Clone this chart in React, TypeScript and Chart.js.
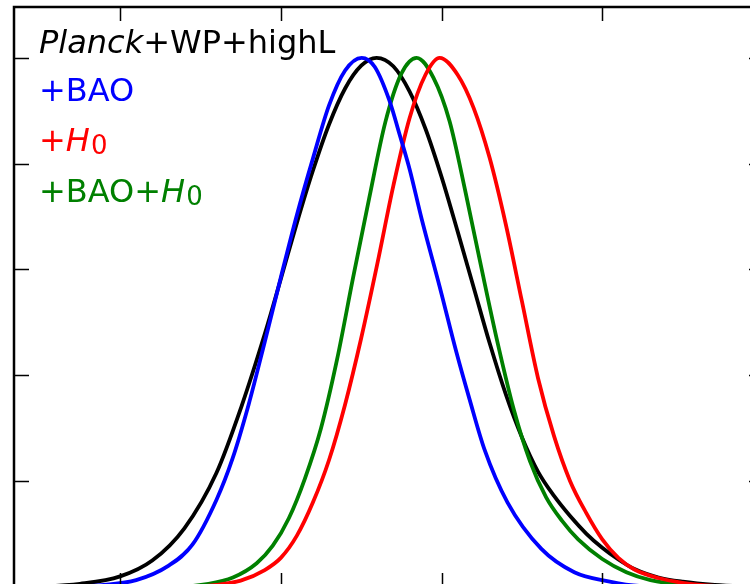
import React, { useEffect, useRef } from 'react';
import { Chart, registerables } from 'chart.js';

Chart.register(...registerables);

// ---- data (x in axis units, y = normalised likelihood) ----
const planckX = [-0.66, -0.5, -0.25, 0.0, 0.2, 0.4, 0.6, 0.756, 0.9, 1.0, 1.1, 1.2, 1.3, 1.4, 1.5, 1.596, 1.7, 1.8, 1.9, 2.0, 2.1, 2.2, 2.3, 2.4, 2.5, 2.6, 2.7, 2.8, 2.9, 3.0, 3.1, 3.2, 3.35, 3.5, 3.7, 3.9, 4.0];
const planckY = [0, 0.001, 0.006, 0.02, 0.05, 0.111, 0.216, 0.342, 0.478, 0.582, 0.688, 0.787, 0.874, 0.942, 0.985, 1.0, 0.984, 0.937, 0.866, 0.775, 0.672, 0.566, 0.46, 0.364, 0.283, 0.218, 0.172, 0.134, 0.101, 0.074, 0.052, 0.034, 0.018, 0.01, 0.004, 0.001, 0];

const baoX = [-0.66, -0.3, -0.1, 0.1, 0.3, 0.45, 0.6, 0.7, 0.8, 0.9, 1.0, 1.1, 1.2, 1.3, 1.4, 1.503, 1.584, 1.677, 1.739, 1.801, 1.876, 1.988, 2.093, 2.174, 2.267, 2.41, 2.621, 2.826, 3.031, 3.23, 4.0];
const baoY = [0, 0.001, 0.004, 0.013, 0.04, 0.08, 0.165, 0.243, 0.345, 0.463, 0.585, 0.703, 0.81, 0.91, 0.976, 1.0, 0.983, 0.918, 0.855, 0.79, 0.696, 0.568, 0.443, 0.355, 0.26, 0.16, 0.072, 0.028, 0.011, 0.002, 0];

const h0X = [-0.66, 0.45, 0.6, 0.75, 0.9, 1.0, 1.1, 1.2, 1.3, 1.4, 1.5, 1.6, 1.7, 1.8, 1.9, 1.988, 2.1, 2.2, 2.3, 2.4, 2.5, 2.6, 2.7, 2.8, 2.9, 3.0, 3.1, 3.2, 3.35, 3.5, 3.7, 4.0];
const h0Y = [0, 0.001, 0.004, 0.012, 0.032, 0.055, 0.097, 0.16, 0.24, 0.345, 0.47, 0.61, 0.758, 0.885, 0.968, 1.0, 0.968, 0.905, 0.81, 0.685, 0.54, 0.395, 0.285, 0.2, 0.14, 0.09, 0.055, 0.033, 0.017, 0.008, 0.002, 0];

const baoH0X = [-0.66, 0.35, 0.55, 0.702, 0.85, 0.95, 1.05, 1.15, 1.25, 1.35, 1.45, 1.55, 1.65, 1.75, 1.845, 1.95, 2.05, 2.15, 2.25, 2.35, 2.45, 2.55, 2.65, 2.75, 2.85, 3.0, 3.15, 3.3, 3.5, 3.7, 4.0];
const baoH0Y = [0, 0.001, 0.006, 0.018, 0.045, 0.078, 0.13, 0.205, 0.3, 0.43, 0.585, 0.735, 0.878, 0.97, 1.0, 0.962, 0.88, 0.745, 0.6, 0.46, 0.335, 0.238, 0.17, 0.125, 0.09, 0.053, 0.028, 0.013, 0.004, 0.001, 0];

const xTickValues = [0, 1, 2, 3];
const yTickValues = [0, 0.2, 0.4, 0.6, 0.8, 1.0];
const xMin = -0.66;
const xMax = 4.0;
const yMin = 0;
const yMax = 1.096;

const seriesNames = ['Planck+WP+highL', '+BAO', '+H0', '+BAO+H0'];
const seriesColors = ['#000000', '#0000ff', '#ff0000', '#008000'];

// legend text segments: n = normal, i = italic, s = subscript
const legendParts: [string, string][][] = [
  [['Planck', 'i'], ['+WP+highL', 'n']],
  [['+BAO', 'n']],
  [['+', 'n'], ['H', 'i'], ['0', 's']],
  [['+BAO+', 'n'], ['H', 'i'], ['0', 's']],
];

const zip = (xs: number[], ys: number[]) => xs.map((x, i) => ({ x, y: ys[i] }));

const framePlugin = {
  id: 'frameTicks',
  afterDatasetsDraw(chart: any) {
    const { ctx, chartArea } = chart;
    const { left, right, top, bottom } = chartArea;
    const xs = chart.scales.x;
    const ys = chart.scales.y;
    ctx.save();
    ctx.strokeStyle = '#000';
    ctx.lineWidth = 1.5;
    ctx.beginPath();
    xTickValues.forEach((v) => {
      const px = Math.round(xs.getPixelForValue(v)) + 0.5;
      ctx.moveTo(px, top);
      ctx.lineTo(px, top + 14);
      ctx.moveTo(px, bottom);
      ctx.lineTo(px, bottom - 14);
    });
    yTickValues.forEach((v) => {
      const py = Math.round(ys.getPixelForValue(v)) + 0.5;
      ctx.moveTo(left, py);
      ctx.lineTo(left + 15, py);
      ctx.moveTo(right, py);
      ctx.lineTo(right - 14, py);
    });
    ctx.stroke();
    ctx.lineWidth = 2.5;
    ctx.strokeRect(left, top, right - left, bottom - top);
    ctx.restore();
  },
};

const legendPlugin = {
  id: 'textLegend',
  afterDraw(chart: any) {
    const { ctx } = chart;
    const baselines = [53, 101, 151, 202];
    const fam = '"DejaVu Sans", sans-serif';
    ctx.save();
    ctx.textBaseline = 'alphabetic';
    ctx.textAlign = 'left';
    legendParts.forEach((parts, li) => {
      let x = 39;
      const y = baselines[li];
      ctx.fillStyle = seriesColors[li];
      parts.forEach(([t, kind]) => {
        let yy = y;
        if (kind === 'i') ctx.font = `italic 32px ${fam}`;
        else if (kind === 's') {
          ctx.font = `26px ${fam}`;
          yy = y + 3;
          x += 1;
        } else ctx.font = `32px ${fam}`;
        ctx.fillText(t, x, yy);
        x += ctx.measureText(t).width;
      });
    });
    ctx.restore();
  },
};

export default function App() {
  const ref = useRef<HTMLCanvasElement | null>(null);

  useEffect(() => {
    if (!ref.current) return;
    const data = [zip(planckX, planckY), zip(baoX, baoY), zip(h0X, h0Y), zip(baoH0X, baoH0Y)];
    const order = [0, 1, 3, 2];
    const chart = new Chart(ref.current, {
      type: 'line',
      data: {
        datasets: order.map((i) => ({
          label: seriesNames[i],
          data: data[i],
          borderColor: seriesColors[i],
          backgroundColor: seriesColors[i],
          borderWidth: 3.8,
          pointRadius: 0,
          fill: false,
          cubicInterpolationMode: 'monotone' as const,
          order: i === 0 ? 4 : i,
        })),
      },
      options: {
        animation: false,
        responsive: false,
        events: [],
        layout: { padding: { left: 14, top: 7, right: 17, bottom: 13 } },
        scales: {
          x: { type: 'linear', display: false, min: xMin, max: xMax },
          y: { type: 'linear', display: false, min: yMin, max: yMax },
        },
        plugins: {
          legend: { display: false },
          tooltip: { enabled: false },
          title: { display: false },
        },
      },
      plugins: [framePlugin, legendPlugin],
    });
    return () => chart.destroy();
  }, []);

  return (
    <div
      style={{
        position: 'fixed',
        left: 0,
        top: 0,
        width: 750,
        height: 584,
        overflow: 'hidden',
        background: '#fff',
      }}
    >
      <canvas ref={ref} width={780} height={600} style={{ width: 780, height: 600, display: 'block' }} />
    </div>
  );
}
